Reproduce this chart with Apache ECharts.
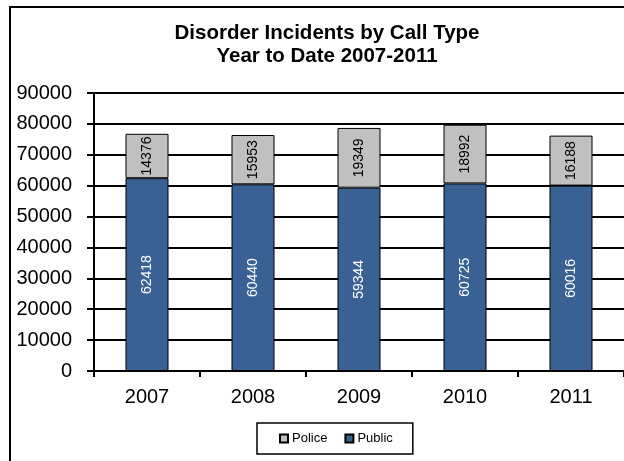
<!DOCTYPE html>
<html>
<head>
<meta charset="utf-8">
<script src="https://cdn.jsdelivr.net/npm/echarts@6/dist/echarts.min.js"></script>
<style>
html,body{margin:0;padding:0;background:#fff;}
#main{width:624px;height:461px;}
</style>
</head>
<body>
<div id="main"></div>
<script>
var years = ['2007', '2008', '2009', '2010', '2011'];
var policeCalls = [14376, 15953, 19349, 18992, 16188];
var publicCalls = [62418, 60440, 59344, 60725, 60016];
var titleLines = ['Disorder Incidents by Call Type', 'Year to Date 2007-2011'];

var FONT = '"Liberation Sans", Arial, sans-serif';
var chart = echarts.init(document.getElementById('main'), null, {renderer: 'canvas'});
chart.setOption({
  animation: false,
  backgroundColor: '#fff',
  textStyle: {fontFamily: FONT},
  graphic: [{
    type: 'rect',
    shape: {x: 10, y: 7, width: 700, height: 520},
    style: {fill: 'none', stroke: '#000', lineWidth: 2},
    silent: true,
    z: 100
  }],
  title: {
    text: titleLines.join('\n'),
    left: 327,
    top: 22,
    textAlign: 'center',
    padding: 0,
    textStyle: {fontFamily: FONT, fontSize: 20.5, fontWeight: 'bold', color: '#000', lineHeight: 23}
  },
  legend: {
    data: ['Police', 'Public'],
    left: 257,
    top: 423,
    padding: [9, 20, 9, 22],
    borderColor: '#000',
    borderWidth: 1.5,
    itemWidth: 8,
    itemHeight: 8,
    itemGap: 17,
    icon: 'rect',
    textStyle: {fontFamily: FONT, fontSize: 13, color: '#000', padding: [0, 0, 0, -1]}
  },
  grid: {left: 94, top: 93, width: 535, height: 278},
  xAxis: {
    type: 'category',
    data: years,
    axisLine: {lineStyle: {color: '#000', width: 2}},
    axisTick: {show: true, length: 6, lineStyle: {color: '#000', width: 2}},
    axisLabel: {fontFamily: FONT, fontSize: 20, color: '#000', margin: 16}
  },
  yAxis: {
    type: 'value',
    min: 0,
    max: 90000,
    interval: 10000,
    axisLine: {show: true, lineStyle: {color: '#000', width: 2}},
    axisTick: {show: true, length: 7, lineStyle: {color: '#000', width: 2}},
    splitLine: {show: true, lineStyle: {color: '#000', width: 2, opacity: 1}},
    axisLabel: {fontFamily: FONT, fontSize: 20, color: '#000', margin: 22,
      formatter: function (v) { return String(v); }}
  },
  series: [
    {
      name: 'Public',
      type: 'bar',
      stack: 'total',
      data: publicCalls,
      barWidth: 43,
      itemStyle: {color: '#3A6193', borderColor: '#000', borderWidth: 1},
      label: {show: true, position: 'inside', rotate: 90, color: '#fff', fontFamily: FONT, fontSize: 14}
    },
    {
      name: 'Police',
      type: 'bar',
      stack: 'total',
      data: policeCalls,
      barWidth: 43,
      itemStyle: {color: '#C0C0C0', borderColor: '#000', borderWidth: 1},
      label: {show: true, position: 'inside', rotate: 90, color: '#000', fontFamily: FONT, fontSize: 14}
    }
  ]
});
</script>
</body>
</html>
